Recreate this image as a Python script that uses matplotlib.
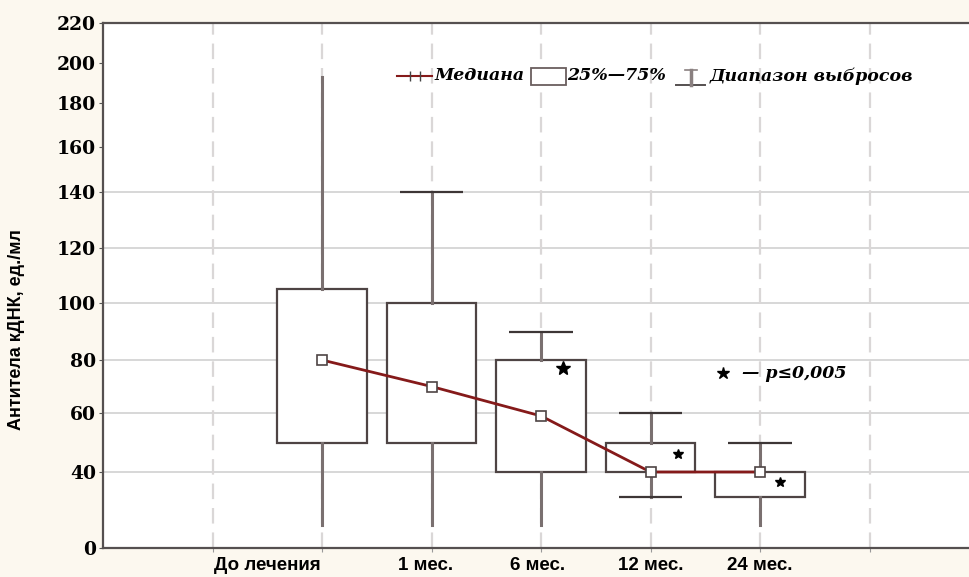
import numpy as np
import matplotlib.pyplot as plt
from matplotlib.patches import Rectangle
from matplotlib.lines import Line2D

# данные
groups = ['До лечения', '1 мес.', '6 мес.', '12 мес.', '24 мес.']
q1 = [50, 50, 40, 40, 27]
q3 = [105, 100, 80, 50, 40]
medians = [80, 70, 59, 40, 40]
whis_lo = [12, 12, 12, 27, 12]
whis_hi = [193, 140, 90, 60, 50]
cap_lo = [False, False, False, True, False]
cap_hi = [False, True, True, True, True]
star_dx = [None, None, 0.2, 0.25, 0.18]
star_y = [None, None, 77, 46, 35]

yticks = [0, 40, 60, 80, 100, 120, 140, 160, 180, 200, 220]
# ось Y на исходном рисунке неравномерная: высота каждой отметки в пикселях
ytick_px = [0, 76, 135, 188, 245, 300, 356, 401, 445, 485, 525]

W, H = 969, 577
def fx(px):
    return px / W
def fy(py):
    return 1 - py / H

serif_bi = dict(family='DejaVu Serif', weight='bold', style='italic')

fig = plt.figure(figsize=(W / 100, H / 100), dpi=100, facecolor='#fcf8ef')
ax = fig.add_axes([fx(103), fy(548), 1 - fx(103), (548 - 23) / H])
ax.set_facecolor('white')

ax.set_yscale('function', functions=(lambda v: np.interp(v, yticks, ytick_px),
                                     lambda p: np.interp(p, ytick_px, yticks)))
ax.set_ylim(0, 220)
ax.set_xlim(0, (W - 103) / 109.5)

pos = np.arange(2, 2 + len(groups))
label_shift = [-0.5, -0.05, -0.03, 0, 0]

# сетка
for yv in [40, 60, 80, 100, 120, 140]:
    ax.axhline(yv, color='#cdcdcd', lw=1.1, zorder=0)
for xv in range(1, 8):
    ax.axvline(xv, color='#dad7d7', lw=1.6, ls=(0, (7, 4)), zorder=0)

stats = []
for i in range(len(groups)):
    stats.append(dict(med=medians[i], q1=q1[i], q3=q3[i],
                      whislo=whis_lo[i], whishi=whis_hi[i], fliers=[]))
ax.bxp(stats, positions=pos, widths=0.82, showcaps=False, showfliers=False,
       patch_artist=True,
       boxprops=dict(facecolor='white', edgecolor='#4e4444', lw=1.6),
       whiskerprops=dict(color='#7a7070', lw=2.2),
       medianprops=dict(lw=0), manage_ticks=False, zorder=2)

for i in range(len(groups)):
    if cap_hi[i]:
        ax.hlines(whis_hi[i], pos[i] - 0.29, pos[i] + 0.29, color='#3d3636', lw=1.6, zorder=3)
    if cap_lo[i]:
        ax.hlines(whis_lo[i], pos[i] - 0.29, pos[i] + 0.29, color='#3d3636', lw=1.6, zorder=3)
    if star_y[i] is not None:
        ax.plot(pos[i] + star_dx[i], star_y[i], marker='*', color='black',
                ms=10 if i == 2 else 7, ls='none', zorder=4)

ax.plot(pos, medians, color='#851a1a', lw=2, marker='s', ms=7,
        mfc='white', mec='#4e4444', mew=1.2, zorder=5)

# подписи осей
ax.set_yticks(yticks)
ax.set_yticklabels([str(v) for v in yticks], family='DejaVu Serif',
                   weight='bold', fontsize=13.5)
ax.set_xticks(range(1, 8))
ax.set_xticklabels([])
ax.tick_params(axis='y', length=3, color='#555555', pad=2)
ax.tick_params(axis='x', length=3, color='#999999')
for i, g in enumerate(groups):
    ax.text(pos[i] + label_shift[i], -0.034, g, transform=ax.get_xaxis_transform(),
            ha='center', va='center', family='Liberation Sans', weight='bold',
            fontsize=13.5)

fig.text(fx(17), fy(330), 'Антитела кДНК, ед./мл', rotation=90,
         ha='center', va='center', family='Liberation Sans', weight='bold',
         fontsize=13)

for s in ['left', 'bottom', 'top']:
    ax.spines[s].set_color('#555050')
    ax.spines[s].set_linewidth(1.6)
ax.spines['right'].set_visible(False)

# легенда
fig.add_artist(Line2D([fx(397), fx(432)], [fy(76), fy(76)], color='#851a1a',
                      lw=1.5, transform=fig.transFigure))
fig.add_artist(Line2D([fx(410), fx(420)], [fy(76), fy(76)], color='#444444',
                      lw=0, marker='|', ms=7, transform=fig.transFigure))
fig.text(fx(435), fy(76), 'Медиана', ha='left', va='center', fontsize=12.5, **serif_bi)
fig.add_artist(Rectangle((fx(531), fy(85)), fx(566) - fx(531), 17 / H,
                         facecolor='white', edgecolor='#6a5e5e', lw=1.3,
                         transform=fig.transFigure))
fig.text(fx(567), fy(76), '25%—75%', ha='left', va='center', fontsize=12.5, **serif_bi)
fig.add_artist(Line2D([fx(676), fx(705)], [fy(85), fy(85)], color='#555050',
                      lw=1.4, transform=fig.transFigure))
fig.add_artist(Line2D([fx(691), fx(691)], [fy(70), fy(85)], color='#8a8080',
                      lw=2.5, transform=fig.transFigure))
fig.add_artist(Line2D([fx(685), fx(697)], [fy(70), fy(70)], color='#8a8080',
                      lw=1.2, transform=fig.transFigure))
fig.text(fx(710), fy(76), 'Диапазон выбросов', ha='left', va='center', fontsize=12.5, **serif_bi)

# обозначение звездочки
ax.plot(5.66, 75, marker='*', color='black', ms=9, ls='none')
ax.text(5.84, 75, '— p≤0,005', ha='left', va='center', fontsize=12.5, **serif_bi)

fig.savefig('out.png', dpi=100, facecolor=fig.get_facecolor())
